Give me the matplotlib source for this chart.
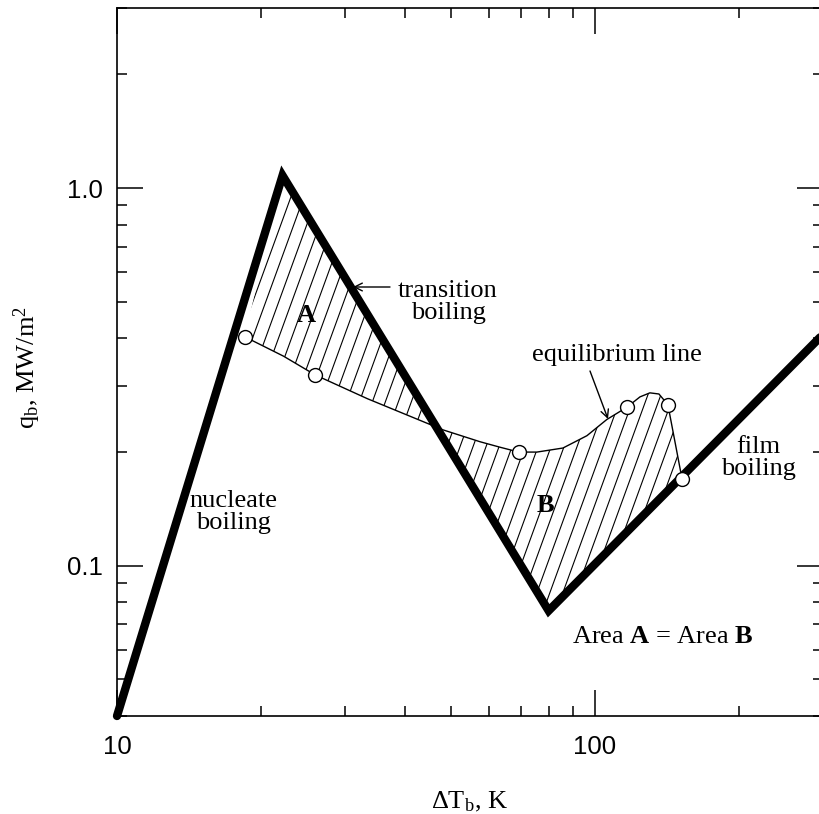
import matplotlib
matplotlib.use("Agg")
import matplotlib.pyplot as plt
from matplotlib.patches import Polygon
from matplotlib.collections import LineCollection
from matplotlib.ticker import FixedLocator, FixedFormatter, LogLocator, NullFormatter
import numpy as np

plt.rcParams['mathtext.fontset'] = 'custom'
plt.rcParams['mathtext.rm'] = 'Liberation Serif'
plt.rcParams['mathtext.bf'] = 'Liberation Serif:bold'
plt.rcParams['mathtext.it'] = 'Liberation Serif:italic'

SERIF = 'Liberation Serif'
SANS = 'Liberation Sans'

# boiling curve corners: start of nucleate, CHF peak, Leidenfrost minimum, film end
boil_dT = [10, 22.2, 80, 300]
boil_q = [0.04, 1.08, 0.076, 0.41]

# equilibrium line
eq_dT = [18.5, 22.3, 26.0, 33.4, 45.8, 48.1, 57.5, 63.3, 69.3, 75.6, 85.7,
         96.2, 105.9, 116.7, 124.2, 130.3, 136.1, 142.1, 152.1]
eq_q = [0.404, 0.359, 0.320, 0.277, 0.235, 0.229, 0.213, 0.206, 0.200, 0.200, 0.205,
        0.221, 0.244, 0.263, 0.280, 0.287, 0.285, 0.267, 0.170]
i_cross = 4  # where the equilibrium line crosses the transition branch

# measured points on the equilibrium line
circ_dT = [18.5, 26.0, 69.3, 116.7, 142.1, 152.1]
circ_q = [0.404, 0.320, 0.200, 0.263, 0.267, 0.170]

x_ticks = [10, 100]
x_ticklabels = ['10', '100']
y_ticks = [0.1, 1.0]
y_ticklabels = ['0.1', '1.0']

W, H = 819, 814
fig = plt.figure(figsize=(W / 100, H / 100), dpi=100)
ax = fig.add_axes([117 / W, 1 - 716 / H, (823 - 117) / W, (716 - 8) / H])
ax.set_xscale('log')
ax.set_yscale('log')
ax.set_xlim(10, 300)
ax.set_ylim(0.04, 3)

# hatched areas A and B
polyA = list(zip(eq_dT[:i_cross + 1], eq_q[:i_cross + 1])) + [(boil_dT[1], boil_q[1])]
polyB = list(zip(eq_dT[i_cross:], eq_q[i_cross:])) + [(boil_dT[2], boil_q[2])]
ang = np.deg2rad(70)
slope = np.tan(ang) * (706 / 708)
step = 13 / 706
segs = [[(x0, 0), (x0 + 1 / slope, 1)] for x0 in np.arange(-0.5, 1.05, step)]
for pts in (polyA, polyB):
    patch = Polygon(pts, closed=True, facecolor='none', edgecolor='none')
    ax.add_patch(patch)
    lc = LineCollection(segs, colors='black', linewidths=0.8, transform=ax.transAxes)
    ax.add_collection(lc)
    lc.set_clip_path(patch)

ax.plot(eq_dT, eq_q, color='black', lw=1.0, zorder=3)
ax.plot(boil_dT, boil_q, color='black', lw=6, solid_joinstyle='miter',
        solid_capstyle='round', clip_on=False, zorder=4)
ax.plot(circ_dT, circ_q, 'o', ms=10, mfc='white', mec='black', mew=1.0, zorder=5)

# axes, ticks
ax.xaxis.set_major_locator(FixedLocator(x_ticks))
ax.xaxis.set_major_formatter(FixedFormatter(x_ticklabels))
ax.yaxis.set_major_locator(FixedLocator(y_ticks))
ax.yaxis.set_major_formatter(FixedFormatter(y_ticklabels))
for axis in (ax.xaxis, ax.yaxis):
    axis.set_minor_locator(LogLocator(base=10, subs=np.arange(2, 10)))
    axis.set_minor_formatter(NullFormatter())
ax.tick_params(which='both', direction='in', top=True, right=True, width=1.1)
ax.tick_params(which='major', length=19)
ax.tick_params(which='minor', length=7)
ax.tick_params(axis='x', pad=14)
ax.tick_params(axis='y', pad=10)
for lab in ax.get_xticklabels() + ax.get_yticklabels():
    lab.set_fontfamily(SANS)
    lab.set_fontsize(18.5)
for sp in ax.spines.values():
    sp.set_linewidth(1.2)

ax.set_xlabel(r'$\Delta$T$_\mathrm{b}$, K', fontfamily=SERIF, fontsize=19, va='center')
ax.set_ylabel(r'q$_\mathrm{b}$, MW/m$^2$', fontfamily=SERIF, fontsize=19, va='center')
ax.xaxis.set_label_coords(0.5, -(802 - 716) / 708)
ax.yaxis.set_label_coords(-(117 - 27) / 706, (716 - 368) / 708)

def px(x, y):
    return (x / W, 1 - y / H)

tkw = dict(transform=fig.transFigure, fontfamily=SERIF, fontsize=19,
           ha='center', va='center', linespacing=1.0)
fig.text(*px(233, 512), 'nucleate\nboiling', **tkw)
fig.text(*px(448, 302), 'transition\nboiling', **tkw)
fig.text(*px(758, 458), 'film\nboiling', **tkw)
fig.text(*px(617, 355), 'equilibrium line', **tkw)
fig.text(*px(306, 315), 'A', fontweight='bold', **tkw)
fig.text(*px(545, 505), 'B', fontweight='bold', **tkw)
fig.text(*px(663, 637), r'Area $\mathbf{A}$ = Area $\mathbf{B}$', **tkw)

akw = dict(xycoords='figure fraction', textcoords='figure fraction',
           arrowprops=dict(arrowstyle='->', lw=1.0, color='black',
                           shrinkA=0, shrinkB=0, mutation_scale=14))
ax.annotate('', xy=px(353, 287), xytext=px(390, 287), **akw)
ax.annotate('', xy=px(608, 419), xytext=px(590, 371), **akw)

fig.savefig('out.png', dpi=100)
